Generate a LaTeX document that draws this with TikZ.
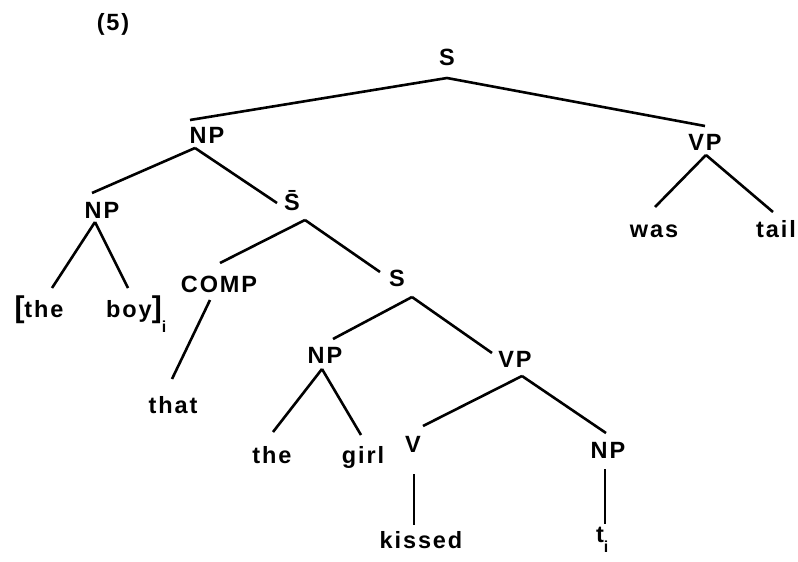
\documentclass[tikz,border=0pt]{standalone}
\usepackage{fontspec}
\setmainfont{Liberation Sans}[LetterSpace=8]
\newcommand\subx[2]{\rlap{\raisebox{-#1}{\fontsize{16}{16}\selectfont #2}}}
\newcommand\bigbr[1]{{\fontsize{30}{30}\selectfont #1}}
\begin{document}
\begin{tikzpicture}[x=1pt,y=-1pt,
  lab/.style={anchor=base,inner sep=0pt,font=\fontsize{23.5}{23.5}\selectfont\bfseries},
  br/.style={line width=2.6pt}]
\useasboundingbox[fill=white] (0,0) rectangle (798,562);
\node[lab] (five) at (113,30) {(5)};
\node[lab] (S0) at (447,65) {S};
\node[lab] (NP1) at (207,143) {NP};
\node[lab] (VP1) at (705,150) {VP};
\node[lab] (NP2) at (102,218) {NP};
\node[lab] (Sb) at (292,210) {\=S};
\node[lab] (the1) at (39,317) {\bigbr{[}the};
\node[lab] (boy) at (134,317) {boy\bigbr{]}\subx{15pt}{i}};
\node[lab] (COMP) at (219,292) {COMP};
\node[lab] (S2) at (397,286) {S};
\node[lab] (that) at (173,413) {that};
\node[lab] (NP3) at (325,363) {NP};
\node[lab] (VP2) at (515,367) {VP};
\node[lab] (the2) at (272,463) {the};
\node[lab] (girl) at (363,463) {girl};
\node[lab] (V) at (413,452) {V};
\node[lab] (NP4) at (608,458) {NP};
\node[lab] (kissed) at (421,548) {kissed};
\node[lab] (t) at (600,542) {t\subx{10pt}{i}};
\node[lab] (was) at (654,237) {was};
\node[lab] (tail) at (776,237) {tail};
% edges
\draw[br] ([shift={(0,13)}]S0.base) -- ([shift={(-17,-23)}]NP1.base);
\draw[br] ([shift={(0,13)}]S0.base) -- ([shift={(0,-24)}]VP1.base);
\draw[br] ([shift={(-12,5)}]NP1.base) -- ([shift={(-10,-25)}]NP2.base);
\draw[br] ([shift={(-12,5)}]NP1.base) -- ([shift={(-15,-7)}]Sb.base);
\draw[br] ([shift={(-7,4)}]NP2.base) -- ([shift={(13,-29)}]the1.base);
\draw[br] ([shift={(-7,4)}]NP2.base) -- ([shift={(-6,-29)}]boy.base);
\draw[br] ([shift={(13,10)}]Sb.base) -- ([shift={(1,-29)}]COMP.base);
\draw[br] ([shift={(13,10)}]Sb.base) -- ([shift={(-17,-14)}]S2.base);
\draw[br] ([shift={(-9,8)}]COMP.base) -- ([shift={(-1,-34)}]that.base);
\draw[br] ([shift={(15,11)}]S2.base) -- ([shift={(8,-24)}]NP3.base);
\draw[br] ([shift={(15,11)}]S2.base) -- ([shift={(-23,-14)}]VP2.base);
\draw[br] ([shift={(-3,6)}]NP3.base) -- ([shift={(1,-31)}]the2.base);
\draw[br] ([shift={(-3,6)}]NP3.base) -- ([shift={(-2,-28)}]girl.base);
\draw[br] ([shift={(7,9)}]VP2.base) -- ([shift={(10,-26)}]V.base);
\draw[br] ([shift={(7,9)}]VP2.base) -- ([shift={(-2,-25)}]NP4.base);
\draw[br] ([shift={(1,22)}]V.base) -- ([shift={(-7,-23)}]kissed.base);
\draw[br] ([shift={(-3,11)}]NP4.base) -- ([shift={(5,-18)}]t.base);
\draw[br] ([shift={(1,5)}]VP1.base) -- ([shift={(1,-30)}]was.base);
\draw[br] ([shift={(1,5)}]VP1.base) -- ([shift={(-3,-25)}]tail.base);
\end{tikzpicture}
\end{document}
